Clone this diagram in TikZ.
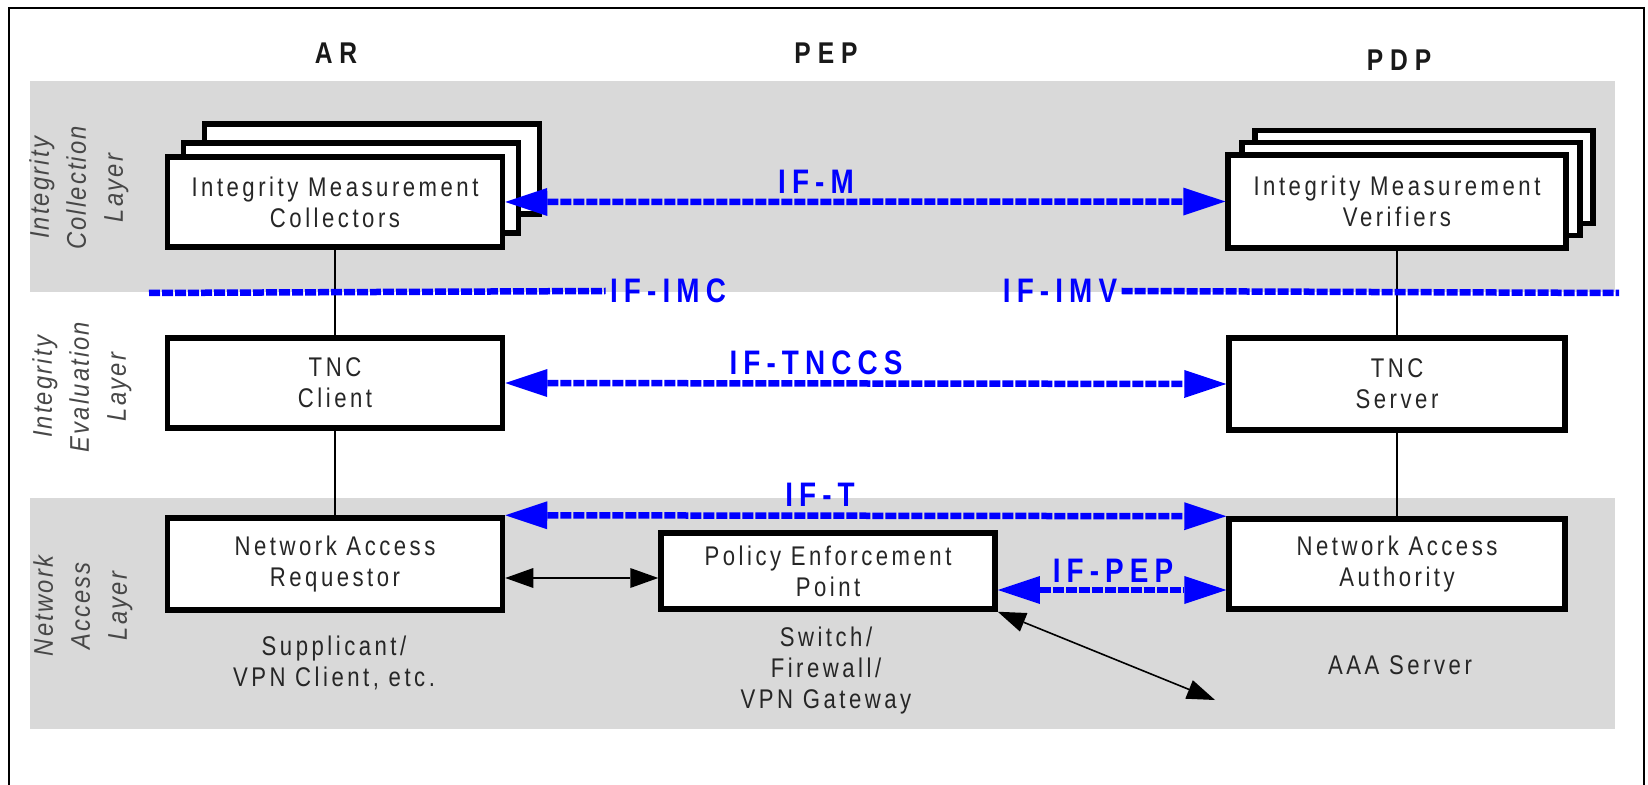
\documentclass[tikz,border=0pt]{standalone}
\usepackage{fontspec}
\setmainfont{Liberation Sans}
\newfontfamily\boxfont{Liberation Sans}[FakeStretch=0.82,LetterSpace=13]
\newfontfamily\hdrfont{Liberation Sans}[FakeStretch=0.82,LetterSpace=23]
\newfontfamily\iffont{Liberation Sans}[FakeStretch=0.82,LetterSpace=18]
\newfontfamily\layfont{Liberation Sans}[FakeStretch=0.88,LetterSpace=8]
\usetikzlibrary{arrows.meta}
\begin{document}
\begin{tikzpicture}[x=0.5pt,y=-0.5pt,
  box/.style={draw=black, line width=2.75pt, fill=white, align=center, inner sep=0pt,
    font=\boxfont\fontsize{13.5}{15.5}\selectfont, text=black!85},
  band/.style={fill=gray!30, draw=none},
  ifline/.style={draw=blue, line width=3.25pt, dash pattern=on 5.5pt off 1pt},
  ifarrow/.style={ifline, {Triangle[length=21pt,width=14pt,line width=0pt]}-{Triangle[length=21pt,width=14pt,line width=0pt]}},
  blkarrow/.style={draw=black, line width=0.8pt, {Triangle[length=14pt,width=10pt,line width=0pt]}-{Triangle[length=14pt,width=10pt,line width=0pt]}},
  conn/.style={draw=black, line width=0.8pt},
  hdr/.style={font=\hdrfont\bfseries\fontsize{15}{17}\selectfont, text=black!90},
  iflbl/.style={font=\iffont\bfseries\fontsize{17}{19}\selectfont, text=blue, inner sep=2pt},
  laylbl/.style={font=\layfont\itshape\fontsize{13.5}{18.5}\selectfont, text=black!72, align=center, rotate=90},
  note/.style={font=\boxfont\fontsize{13.5}{15.5}\selectfont, text=black!85, align=center}
]
\useasboundingbox (0,0) rectangle (1648,785);
% frame
\draw[line width=1pt] (9,785) -- (9,8) -- (1644,8) -- (1644,785);
% bands
\fill[band] (30,81) rectangle (1615,292);
\fill[band] (30,498) rectangle (1615,729);
% headers
\node[hdr] (ar) at (336,53) {AR};
\node[hdr] (pep) at (826,53) {PEP};
\node[hdr] (pdp) at (1399,60) {PDP};
% layer labels
\node[laylbl] (lay1) at (79,188) {Integrity\\Collection\\Layer};
\node[laylbl] (lay2) at (82,387) {Integrity\\Evaluation\\Layer};
\node[laylbl] (lay3) at (83,606) {Network\\Access\\Layer};
% IMC stack
\node[box, minimum width=167.5pt, minimum height=45pt] (imc3) at (372,169) {};
\node[box, minimum width=167.5pt, minimum height=45pt] (imc2) at (351,188) {};
\node[box, minimum width=167.5pt, minimum height=45pt] (imc) at (335,202) {Integrity Measurement\\Collectors};
% IMV stack
\node[box, minimum width=169pt, minimum height=46.5pt] (imv3) at (1424,177) {};
\node[box, minimum width=169pt, minimum height=46.5pt] (imv2) at (1411,189) {};
\node[box, minimum width=169pt, minimum height=46.5pt] (imv) at (1397,201.5) {Integrity Measurement\\Verifiers};
% middle boxes
\node[box, minimum width=167.5pt, minimum height=45pt] (tncc) at (335,383) {TNC\\Client};
\node[box, minimum width=168pt, minimum height=46pt] (tncs) at (1397,384) {TNC\\Server};
% bottom boxes
\node[box, minimum width=167.5pt, minimum height=46pt] (nar) at (335,564) {Network Access\\Requestor};
\node[box, minimum width=167pt, minimum height=38pt] (pepb) at (828,571) {Policy Enforcement\\Point};
\node[box, minimum width=168pt, minimum height=45pt] (naa) at (1397,564) {Network Access\\Authority};
% captions
\node[note] (supp) at (334,663) {Supplicant/\\VPN Client, etc.};
\node[note] (sw) at (826,671) {Switch/\\Firewall/\\VPN Gateway};
\node[note] (aaa) at (1400,665) {AAA Server};
% vertical connectors
\draw[conn] (imc.south) -- (tncc.north);
\draw[conn] (tncc.south) -- (nar.north);
\draw[conn] (imv.south -| tncs.north) -- (tncs.north);
\draw[conn] (tncs.south) -- (naa.north);
% IF-IMC / IF-IMV
\coordinate (imcL) at (149,293);
\coordinate (imvR) at (1619,293);
\node[iflbl] (ifimc) at (668,291) {IF-IMC};
\node[iflbl] (ifimv) at (1060,291) {IF-IMV};
\draw[ifline] (imcL) -- (ifimc.west);
\draw[ifline] (ifimv.east) -- (imvR);
% IF-M
\draw[ifarrow] (imc.east) -- (imv.west);
\node[iflbl] (ifm) at (816,182) {IF-M};
% IF-TNCCS
\draw[ifarrow] (tncc.east) -- (tncs.west);
\node[iflbl] (iftnccs) at (816,363) {IF-TNCCS};
% IF-T
\draw[ifarrow] (nar.north east) -- (naa.north west);
\node[iflbl] (ift) at (820,495) {IF-T};
% IF-PEP
\coordinate (ypep) at (0,590);
\draw[ifarrow] (pepb.east |- ypep) -- (naa.west |- ypep);
\node[iflbl] (ifpep) at (1113,571) {IF-PEP};
% black arrows
\coordinate (ynp) at (0,578);
\draw[blkarrow] (nar.east |- ynp) -- (pepb.west |- ynp);
\coordinate (farend) at (1215,700);
\draw[blkarrow] (pepb.south east) -- (farend);
\end{tikzpicture}
\end{document}
